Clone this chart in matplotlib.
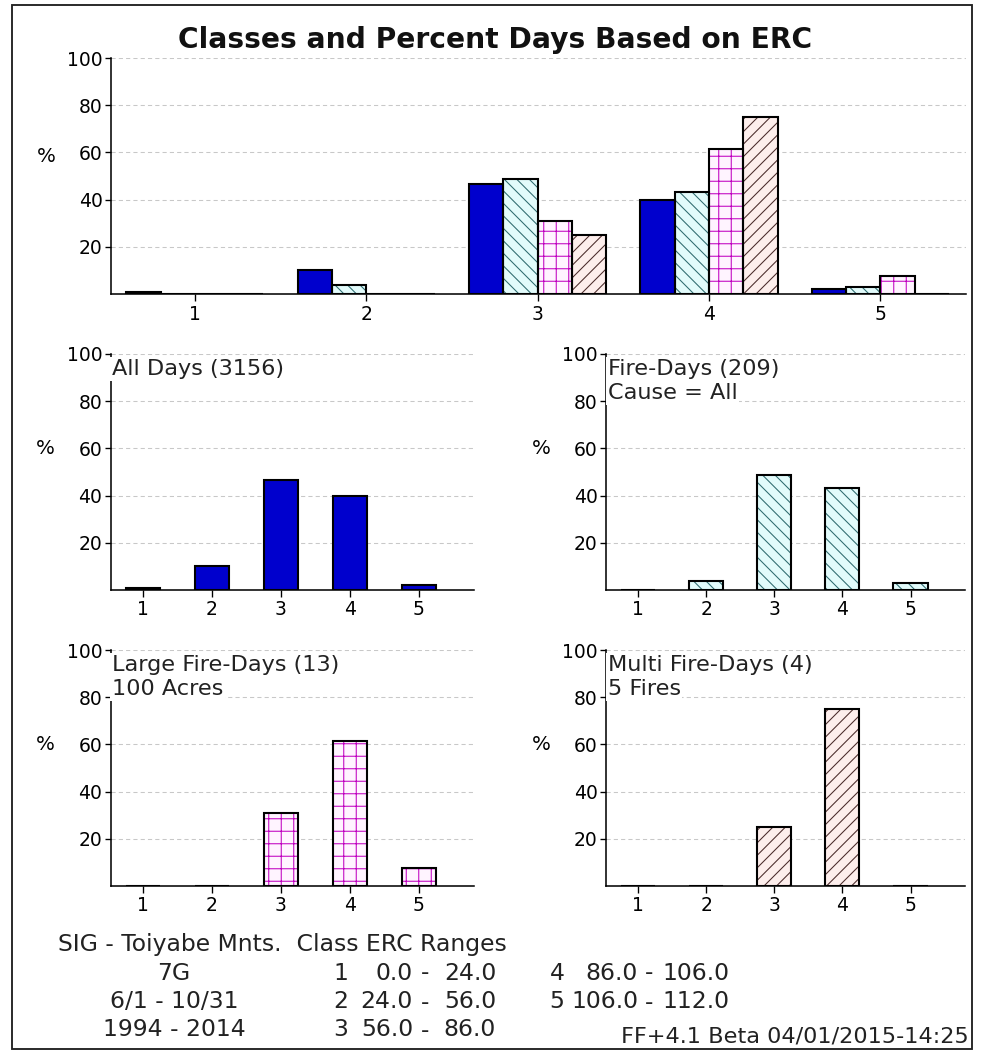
import matplotlib
matplotlib.use("Agg")
import matplotlib.pyplot as plt
from matplotlib.patches import Rectangle

# ---------------- data ----------------
classes = [1, 2, 3, 4, 5]
class_labels = ["1", "2", "3", "4", "5"]
y_ticks = [20, 40, 60, 80, 100]
y_tick_labels = ["20", "40", "60", "80", "100"]

all_days = [1.0, 10.0, 46.6, 39.9, 2.3]
fire_days = [0.0, 3.8, 48.8, 43.4, 2.9]
large_fire_days = [0.0, 0.0, 30.8, 61.5, 7.7]
multi_fire_days = [0.0, 0.0, 25.0, 75.0, 0.0]

title = "Classes and Percent Days Based on ERC"
panel_titles = [["All Days (3156)"],
                ["Fire-Days (209)", "Cause = All"],
                ["Large Fire-Days (13)", "100 Acres"],
                ["Multi Fire-Days (4)", "5 Fires"]]

info_left = ["7G", "6/1 - 10/31", "1994 - 2014"]
erc_class = ["1", "2", "3", "4", "5"]
erc_low = ["0.0", "24.0", "56.0", "86.0", "106.0"]
erc_high = ["24.0", "56.0", "86.0", "106.0", "112.0"]
footer = "FF+4.1 Beta 04/01/2015-14:25"

# ---------------- styles ----------------
styles = [
    dict(fill="#0000CD", hatch=None, hcol="#0000CD"),
    dict(fill="#E2FBFB", hatch="\\\\", hcol="#2E6A6E"),
    dict(fill="#FFF4FF", hatch="+", hcol="#C000C0"),
    dict(fill="#FDEEEC", hatch="//", hcol="#4A2A2A"),
]
series = [all_days, fire_days, large_fire_days, multi_fire_days]

DPI = 75
W, H = 981, 1052
plt.rcParams["hatch.linewidth"] = 1.0
fig = plt.figure(figsize=(W / DPI, H / DPI), dpi=DPI)
fig.patch.set_facecolor("white")


def px_axes(l, t, r, b):
    return fig.add_axes([l / W, 1 - b / H, (r - l) / W, (b - t) / H])


def fx(x):
    return x / W


def fy(y):
    return 1 - y / H


def style_axes(ax, xlim, xpad):
    ax.set_xlim(*xlim)
    ax.set_ylim(0, 100)
    for s in ["top", "right"]:
        ax.spines[s].set_visible(False)
    for s in ["left", "bottom"]:
        ax.spines[s].set_linewidth(1.5)
        ax.spines[s].set_color("black")
    ax.set_yticks(y_ticks)
    ax.set_yticklabels(y_tick_labels)
    ax.set_xticks(classes)
    ax.set_xticklabels(class_labels)
    ax.tick_params(axis="y", direction="out", length=6, width=1.3, pad=2,
                   labelsize=18, colors="black")
    ax.tick_params(axis="x", direction="out", length=7, width=1.3, pad=xpad,
                   labelsize=18, colors="black")
    ax.yaxis.grid(True, color="#C8C8C8", linestyle=(0, (4, 3)), linewidth=1.0)
    ax.set_axisbelow(True)
    ax.set_facecolor("none")


def draw_bars(ax, x, h, w, st):
    ax.bar(x, h, w, color=st["fill"], edgecolor=st["hcol"], hatch=st["hatch"],
           linewidth=0, zorder=2)
    ax.bar(x, h, w, fill=False, edgecolor="black", linewidth=2.0, zorder=3)


# ---------------- top grouped panel ----------------
ax0 = px_axes(111, 58, 966, 294)
style_axes(ax0, (0.51, 5.5), 4)
offsets = [-0.3, -0.1, 0.1, 0.3]
for vals, off, st in zip(series, offsets, styles):
    draw_bars(ax0, [c + off for c in classes], vals, 0.2, st)
fig.text(fx(495), fy(40), title, ha="center", va="center",
         fontsize=27, fontweight="bold", color="#111111")
fig.text(fx(46), fy(156), "%", ha="center", va="center", fontsize=19)

# ---------------- small panels ----------------
boxes = [(110.5, 354, 474, 590), (606, 354, 965, 590),
         (110.5, 650, 474, 886), (606, 650, 965, 886)]
for i, (vals, st, box, ttl) in enumerate(zip(series, styles, boxes, panel_titles)):
    l, t, r, b = box
    ax = px_axes(l, t, r, b)
    style_axes(ax, (0.53, 5.8), 3)
    draw_bars(ax, classes, vals, 0.5, st)
    for k, line in enumerate(ttl):
        fig.text(fx(l + 1.5), fy(t + 15 + 24 * k), line, ha="left", va="center",
                 fontsize=21.5, color="#222222", zorder=10,
                 bbox=dict(facecolor="white", edgecolor="none", pad=1.5))
    fig.text(fx(l - 65), fy(t + 95), "%", ha="center", va="center", fontsize=19)

# ---------------- bottom info text ----------------
fs = 22.5
fig.text(fx(58), fy(945), "SIG - Toiyabe Mnts.  Class ERC Ranges", ha="left",
         va="center", fontsize=fs, color="#222222")
row_y = [973, 1002, 1030]
for k, s in enumerate(info_left):
    fig.text(fx(174), fy(row_y[k]), s, ha="center", va="center", fontsize=fs,
             color="#222222")
cols = [dict(num=341, low=413, dash=425, high=496),
        dict(num=557, low=638, dash=649, high=729)]
for j in range(len(erc_class)):
    c = cols[0] if j < 3 else cols[1]
    yy = row_y[j % 3]
    fig.text(fx(c["num"]), fy(yy), erc_class[j], ha="center", va="center",
             fontsize=fs, color="#222222")
    fig.text(fx(c["low"]), fy(yy), erc_low[j], ha="right", va="center",
             fontsize=fs, color="#222222")
    fig.text(fx(c["dash"]), fy(yy), "-", ha="center", va="center",
             fontsize=fs, color="#222222")
    fig.text(fx(c["high"]), fy(yy), erc_high[j], ha="right", va="center",
             fontsize=fs, color="#222222")
fig.text(fx(969), fy(1036), footer, ha="right", va="center", fontsize=21.5,
         color="#222222")

# ---------------- frame ----------------
fig.add_artist(Rectangle((fx(12), fy(1049)), (972 - 12) / W, (1049 - 5) / H,
                         transform=fig.transFigure, fill=False,
                         edgecolor="#222222", linewidth=1.8))

fig.savefig("out.png", dpi=DPI, facecolor="white")
